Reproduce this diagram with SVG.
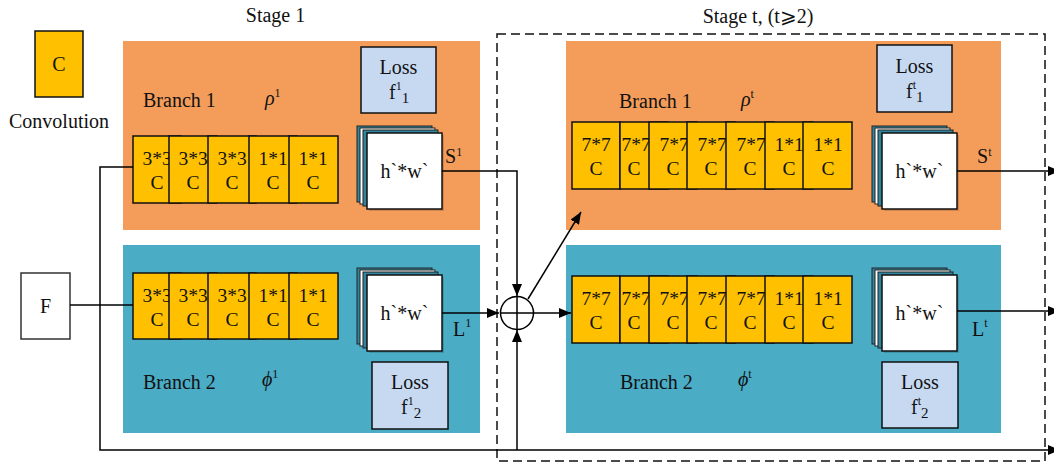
<svg xmlns="http://www.w3.org/2000/svg" width="1054" height="464" viewBox="0 0 1054 464">
<defs>
<style>
text{font-family:"Liberation Serif","Times New Roman","DejaVu Serif","DejaVu Sans",serif;fill:#111;}
.t20{font-size:20px;}
.t19{font-size:19.5px;text-anchor:middle;}
.mid{text-anchor:middle;}
.sup{font-size:12px;}
.sub{font-size:15px;}
.greek{font-style:italic;font-size:20px;}
.orange{fill:#F49D5B;}
.blue{fill:#4BACC6;}
.blk{fill:#FFC000;stroke:#111;stroke-width:1.5;}
.loss{fill:#C6D9F1;stroke:#111;stroke-width:1.5;}
.box{fill:#fff;stroke:#333;stroke-width:1.5;}
.teal{fill:#31859C;stroke:#222;stroke-width:1;}
.wl{fill:#fff;stroke:#222;stroke-width:1;}
.front{fill:#fff;stroke:#111;stroke-width:1.5;}
.shadow{fill:#000;opacity:0.15;}
.ln{fill:none;stroke:#000;stroke-width:1.5;}
.dash{fill:none;stroke:#111;stroke-width:1.5;stroke-dasharray:9 5;}
</style>
<marker id="arr" viewBox="0 0 12 10" refX="12" refY="5" markerWidth="12" markerHeight="10" orient="auto" markerUnits="userSpaceOnUse">
<path d="M0,0 L12,5 L0,10 z" fill="#000"/>
</marker>
</defs>
<rect width="1054" height="464" fill="#fff"/>

<g id="titles">
<text class="t20 mid" x="275.5" y="22">Stage 1</text>
<text class="t20 mid" x="758" y="23">Stage t, (t⩾2)</text>
</g>

<g id="legend">
<rect class="blk" x="35" y="31" width="48" height="66"/>
<text class="t20 mid" x="59" y="71">C</text>
<text class="t20 mid" x="59" y="128">Convolution</text>
</g>

<g id="stage-t-frame">
<rect class="dash" x="497" y="34" width="548" height="427"/>
</g>

<g id="panels">
<rect class="orange" x="123" y="41" width="357" height="189"/>
<rect class="blue" x="123" y="245" width="357" height="188"/>
<rect class="orange" x="566" y="41" width="435" height="189"/>
<rect class="blue" x="566" y="245" width="435" height="188"/>
</g>

<g id="input-F">
<rect class="box" x="21" y="273" width="49" height="66"/>
<text class="t20 mid" x="45.5" y="313">F</text>
</g>

<g id="s1-branch1">
<text class="t20" x="143" y="107">Branch 1</text>
<text class="greek" x="265" y="105">ρ<tspan class="sup" font-style="normal" dy="-8">1</tspan></text>
<g id="s1-b1-convs">
<rect class="blk" x="133" y="136" width="48" height="67"/><text class="t19" x="157" y="165">3*3</text><text class="t19" x="157" y="189">C</text>
<rect class="blk" x="169" y="136" width="48" height="67"/><text class="t19" x="193" y="165">3*3</text><text class="t19" x="193" y="189">C</text>
<rect class="blk" x="208" y="136" width="48" height="67"/><text class="t19" x="232" y="165">3*3</text><text class="t19" x="232" y="189">C</text>
<rect class="blk" x="249" y="136" width="48" height="67"/><text class="t19" x="273" y="165">1*1</text><text class="t19" x="273" y="189">C</text>
<rect class="blk" x="289" y="136" width="49" height="67"/><text class="t19" x="313" y="165">1*1</text><text class="t19" x="313" y="189">C</text>
</g>
<g id="s1-b1-loss">
<rect class="loss" x="361" y="47" width="75" height="66"/>
<text class="t20 mid" x="398.5" y="74">Loss</text>
<text class="t20" x="389" y="99">f<tspan class="sup" dy="-9">1</tspan><tspan class="sub" dy="13">1</tspan></text>
</g>
<g id="s1-b1-map">
<rect class="teal" x="357" y="126" width="75" height="76"/>
<rect class="wl" x="360" y="128" width="75" height="76"/>
<rect class="teal" x="363" y="130" width="75" height="76"/>
<rect class="shadow" x="369" y="135" width="75" height="76"/>
<rect class="front" x="367" y="133" width="75" height="76"/>
<text class="t20 mid" x="404.5" y="178">h`*w`</text>
</g>
<text class="t20" x="445" y="163">S<tspan class="sup" dy="-7">1</tspan></text>
</g>

<g id="s1-branch2">
<text class="t20" x="143" y="389">Branch 2</text>
<text class="greek" x="262" y="386">ϕ<tspan class="sup" font-style="normal" dy="-8">1</tspan></text>
<g id="s1-b2-convs">
<rect class="blk" x="133" y="273" width="48" height="66"/><text class="t19" x="157" y="302">3*3</text><text class="t19" x="157" y="326">C</text>
<rect class="blk" x="169" y="273" width="48" height="66"/><text class="t19" x="193" y="302">3*3</text><text class="t19" x="193" y="326">C</text>
<rect class="blk" x="208" y="273" width="48" height="66"/><text class="t19" x="232" y="302">3*3</text><text class="t19" x="232" y="326">C</text>
<rect class="blk" x="249" y="273" width="48" height="66"/><text class="t19" x="273" y="302">1*1</text><text class="t19" x="273" y="326">C</text>
<rect class="blk" x="289" y="273" width="49" height="66"/><text class="t19" x="313" y="302">1*1</text><text class="t19" x="313" y="326">C</text>
</g>
<g id="s1-b2-map">
<rect class="teal" x="357" y="268" width="75" height="76"/>
<rect class="wl" x="360" y="270" width="75" height="76"/>
<rect class="teal" x="363" y="272" width="75" height="76"/>
<rect class="shadow" x="369" y="277" width="75" height="76"/>
<rect class="front" x="367" y="275" width="75" height="76"/>
<text class="t20 mid" x="404.5" y="320">h`*w`</text>
</g>
<g id="s1-b2-loss">
<rect class="loss" x="372" y="362" width="76" height="67"/>
<text class="t20 mid" x="410" y="389">Loss</text>
<text class="t20" x="401" y="414">f<tspan class="sup" dy="-9">1</tspan><tspan class="sub" dy="13">2</tspan></text>
</g>
<text class="t20" x="453" y="336">L<tspan class="sup" dy="-9">1</tspan></text>
</g>

<g id="st-branch1">
<text class="t20" x="619" y="108">Branch 1</text>
<text class="greek" x="741" y="106">ρ<tspan class="sup" font-style="normal" dy="-8">t</tspan></text>
<g id="st-b1-convs">
<rect class="blk" x="572" y="122" width="48" height="67"/><text class="t19" x="596" y="151">7*7</text><text class="t19" x="596" y="175">C</text>
<rect class="blk" x="620" y="122" width="48" height="67"/><text class="t19" x="636" y="151">7*7</text><text class="t19" x="634" y="175">C</text>
<rect class="blk" x="649" y="122" width="48" height="67"/><text class="t19" x="674" y="151">7*7</text><text class="t19" x="673" y="175">C</text>
<rect class="blk" x="687" y="122" width="48" height="67"/><text class="t19" x="712" y="151">7*7</text><text class="t19" x="711" y="175">C</text>
<rect class="blk" x="726" y="122" width="48" height="67"/><text class="t19" x="751" y="151">7*7</text><text class="t19" x="750" y="175">C</text>
<rect class="blk" x="765" y="122" width="48" height="67"/><text class="t19" x="789" y="151">1*1</text><text class="t19" x="789" y="175">C</text>
<rect class="blk" x="803" y="122" width="49" height="67"/><text class="t19" x="828" y="151">1*1</text><text class="t19" x="828" y="175">C</text>
</g>
<g id="st-b1-loss">
<rect class="loss" x="877" y="45" width="75" height="67"/>
<text class="t20 mid" x="914.5" y="73">Loss</text>
<text class="t20" x="906" y="98">f<tspan class="sup" dy="-9">t</tspan><tspan class="sub" dy="13">1</tspan></text>
</g>
<g id="st-b1-map">
<rect class="teal" x="872" y="126" width="75" height="76"/>
<rect class="wl" x="875" y="128" width="75" height="76"/>
<rect class="teal" x="878" y="130" width="75" height="76"/>
<rect class="shadow" x="884" y="135" width="75" height="76"/>
<rect class="front" x="882" y="133" width="75" height="76"/>
<text class="t20 mid" x="919.5" y="178">h`*w`</text>
</g>
<text class="t20" x="977" y="163">S<tspan class="sup" dy="-7">t</tspan></text>
</g>

<g id="st-branch2">
<text class="t20" x="620" y="389">Branch 2</text>
<text class="greek" x="738" y="386">ϕ<tspan class="sup" font-style="normal" dy="-8">t</tspan></text>
<g id="st-b2-convs">
<rect class="blk" x="572" y="276" width="48" height="67"/><text class="t19" x="596" y="305">7*7</text><text class="t19" x="596" y="329">C</text>
<rect class="blk" x="620" y="276" width="48" height="67"/><text class="t19" x="636" y="305">7*7</text><text class="t19" x="634" y="329">C</text>
<rect class="blk" x="649" y="276" width="48" height="67"/><text class="t19" x="674" y="305">7*7</text><text class="t19" x="673" y="329">C</text>
<rect class="blk" x="687" y="276" width="48" height="67"/><text class="t19" x="712" y="305">7*7</text><text class="t19" x="711" y="329">C</text>
<rect class="blk" x="726" y="276" width="48" height="67"/><text class="t19" x="751" y="305">7*7</text><text class="t19" x="750" y="329">C</text>
<rect class="blk" x="765" y="276" width="48" height="67"/><text class="t19" x="789" y="305">1*1</text><text class="t19" x="789" y="329">C</text>
<rect class="blk" x="803" y="276" width="49" height="67"/><text class="t19" x="828" y="305">1*1</text><text class="t19" x="828" y="329">C</text>
</g>
<g id="st-b2-map">
<rect class="teal" x="872" y="268" width="75" height="76"/>
<rect class="wl" x="875" y="270" width="75" height="76"/>
<rect class="teal" x="878" y="272" width="75" height="76"/>
<rect class="shadow" x="884" y="277" width="75" height="76"/>
<rect class="front" x="882" y="275" width="75" height="76"/>
<text class="t20 mid" x="919.5" y="320">h`*w`</text>
</g>
<g id="st-b2-loss">
<rect class="loss" x="882" y="362" width="76" height="66"/>
<text class="t20 mid" x="920" y="389">Loss</text>
<text class="t20" x="911" y="414">f<tspan class="sup" dy="-9">t</tspan><tspan class="sub" dy="13">2</tspan></text>
</g>
<text class="t20" x="972" y="336">L<tspan class="sup" dy="-9">t</tspan></text>
</g>

<g id="sum">
<circle cx="517" cy="313" r="16.5" fill="#fff" stroke="#000" stroke-width="1.5"/>
<path class="ln" d="M500.5,313 H533.5 M517,296.5 V329.5"/>
</g>

<g id="connectors">
<path class="ln" d="M70,305 H133"/>
<path class="ln" d="M133,167 H100 V450 H1060" marker-end="url(#arr)"/>
<path class="ln" d="M517,450 V330" marker-end="url(#arr)"/>
<path class="ln" d="M442,171 H517 V296" marker-end="url(#arr)"/>
<path class="ln" d="M442,313 H499" marker-end="url(#arr)"/>
<path class="ln" d="M534,313 H571" marker-end="url(#arr)"/>
<path class="ln" d="M528,299 L581,212" marker-end="url(#arr)"/>
<path class="ln" d="M957,171 H1060" marker-end="url(#arr)"/>
<path class="ln" d="M957,311 H1060" marker-end="url(#arr)"/>
</g>
</svg>
